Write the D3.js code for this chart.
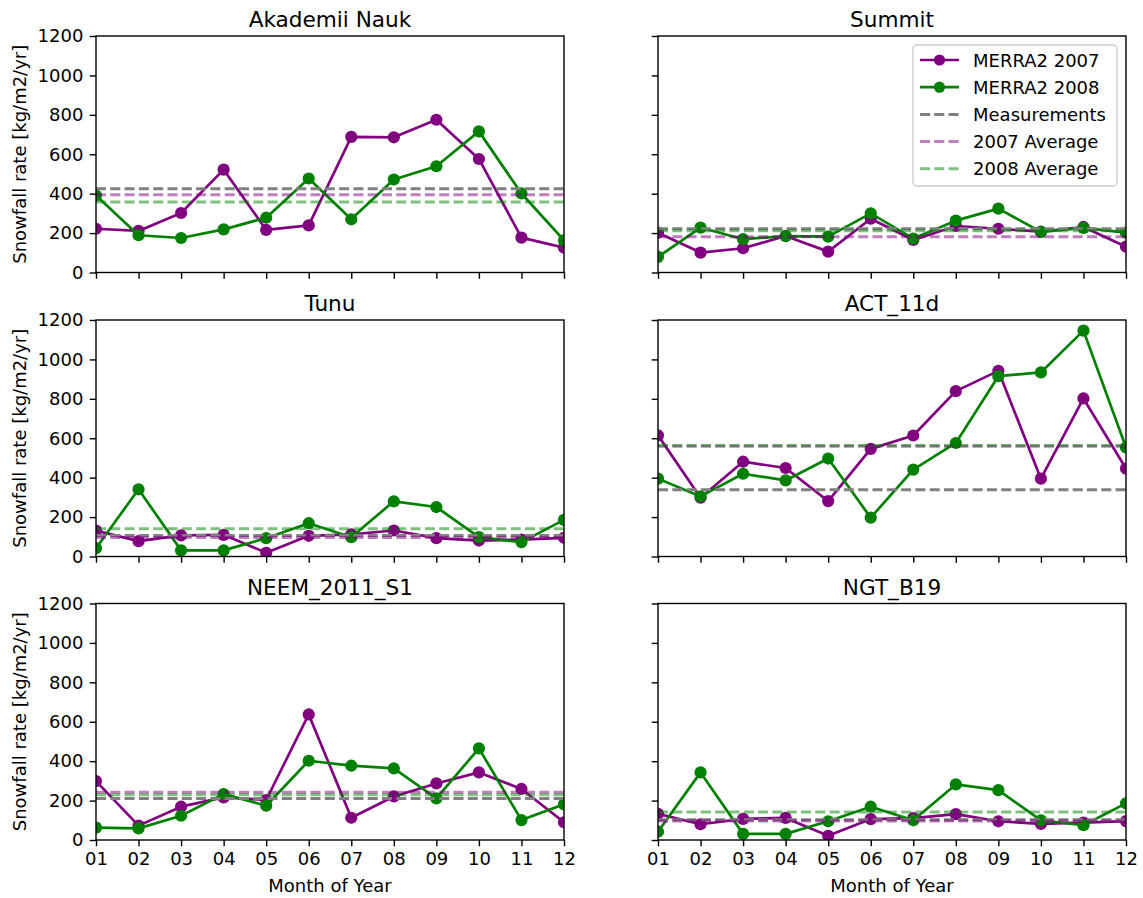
<!DOCTYPE html>
<html>
<head>
<meta charset="utf-8">
<script src="https://cdn.jsdelivr.net/npm/d3@7"></script>
<style>
  body { margin: 0; background: #fff; }
  text { font-family: "DejaVu Sans", sans-serif; fill: #000; }
</style>
</head>
<body>
<script>
const months = ["01", "02", "03", "04", "05", "06", "07", "08", "09", "10", "11", "12"];
const yTicks = [0, 200, 400, 600, 800, 1000, 1200];
const sites = ["Akademii Nauk", "Summit", "Tunu", "ACT_11d", "NEEM_2011_S1", "NGT_B19"];
const seriesNames = ["MERRA2 2007", "MERRA2 2008", "Measurements", "2007 Average", "2008 Average"];

// monthly MERRA2 snowfall rate per site, kg/m2/yr
const akademii2007 = [222, 211, 302, 522, 216, 239, 688, 686, 775, 576, 177, 126];
const akademii2008 = [391, 189, 175, 219, 278, 477, 270, 472, 539, 716, 401, 163];
const summit2007 = [202, 101, 123, 185, 106, 273, 165, 236, 222, 207, 231, 131];
const summit2008 = [79, 228, 169, 185, 182, 300, 172, 263, 324, 206, 226, 202];
const tunu2007 = [132, 78, 107, 110, 19, 105, 112, 132, 93, 81, 86, 95];
const tunu2008 = [42, 341, 31, 31, 93, 169, 98, 280, 251, 98, 73, 186];
const act2007 = [615, 298, 481, 449, 281, 546, 614, 839, 942, 395, 802, 446];
const act2008 = [395, 305, 420, 386, 497, 197, 441, 576, 915, 934, 1146, 553];
const neem2007 = [299, 73, 169, 216, 203, 637, 113, 221, 287, 343, 259, 90];
const neem2008 = [63, 59, 123, 233, 174, 402, 377, 363, 211, 465, 101, 181];
const ngt2007 = [133, 80, 107, 112, 21, 106, 111, 131, 95, 82, 88, 96];
const ngt2008 = [42, 343, 31, 31, 95, 169, 100, 282, 253, 100, 75, 186];

// measured accumulation at each site
const measurements = [425, 222, 107, 339, 210, 103];

const data2007 = [akademii2007, summit2007, tunu2007, act2007, neem2007, ngt2007];
const data2008 = [akademii2008, summit2008, tunu2008, act2008, neem2008, ngt2008];

const purple = "#800080", green = "#008000", gray = "#808080";
const W = 1143, H = 898;
const colX = [96, 658], rowY = [36, 320, 603.5];
const pw = 468, ph = 236.5;
const tickLen = 6.3, tickPad = 6.3;

const svg = d3.select("body").append("svg").attr("width", W).attr("height", H);

const x = d3.scaleLinear().domain([1, 12]).range([0, pw]);
const y = d3.scaleLinear().domain([0, 1200]).range([ph, 0]);

const line = d3.line().x((d, i) => x(i + 1)).y(d => y(d));

function drawPanel(idx) {
    const col = idx % 2, row = Math.floor(idx / 2);
    const g = svg.append("g").attr("transform", `translate(${colX[col]},${rowY[row]})`);

    svg.append("defs").append("clipPath").attr("id", "clip" + idx)
        .append("rect").attr("width", pw).attr("height", ph);

    const plot = g.append("g").attr("clip-path", `url(#clip${idx})`);

    [[data2007[idx], purple], [data2008[idx], green]].forEach(([vals, c]) => {
        plot.append("path").datum(vals)
            .attr("d", line)
            .attr("fill", "none").attr("stroke", c).attr("stroke-width", 2.7)
            .attr("stroke-linejoin", "round");
        plot.selectAll(null).data(vals).enter().append("circle")
            .attr("cx", (d, i) => x(i + 1)).attr("cy", d => y(d))
            .attr("r", 6.1).attr("fill", c);
    });

    const hlines = [
        [measurements[idx], gray, 1],
        [d3.mean(data2007[idx]), purple, 0.5],
        [d3.mean(data2008[idx]), green, 0.5]
    ];
    hlines.forEach(([v, c, op]) => {
        plot.append("line")
            .attr("x1", x(1)).attr("x2", x(12)).attr("y1", y(v)).attr("y2", y(v))
            .attr("stroke", c).attr("stroke-opacity", op).attr("stroke-width", 3)
            .attr("stroke-dasharray", "10,4.3");
    });

    const xAxis = d3.axisBottom(x).tickValues(d3.range(1, 13))
        .tickSize(tickLen).tickPadding(tickPad)
        .tickFormat(row === 2 ? (d => months[d - 1]) : "");
    const ax = g.append("g").attr("transform", `translate(0,${ph})`).call(xAxis);

    const yAxis = d3.axisLeft(y).tickValues(yTicks)
        .tickSize(tickLen).tickPadding(tickPad)
        .tickFormat(col === 0 ? d3.format("d") : "");
    const ay = g.append("g").call(yAxis);

    [ax, ay].forEach(a => {
        a.select(".domain").remove();
        a.selectAll("line").attr("stroke", "#000").attr("stroke-width", 1.4);
        a.selectAll("text").attr("font-size", 18).attr("font-family", "DejaVu Sans").attr("fill", "#000");
    });

    g.append("rect").attr("width", pw).attr("height", ph)
        .attr("fill", "none").attr("stroke", "#000").attr("stroke-width", 1.4);

    g.append("text").attr("x", pw / 2).attr("y", -9)
        .attr("text-anchor", "middle").attr("font-size", 21.6)
        .text(sites[idx]);

    if (col === 0) {
        svg.append("text")
            .attr("transform", `translate(25.5,${rowY[row] + ph / 2}) rotate(-90)`)
            .attr("text-anchor", "middle").attr("font-size", 18)
            .text("Snowfall rate [kg/m2/yr]");
    }
    if (row === 2) {
        svg.append("text").attr("x", colX[col] + pw / 2).attr("y", 892)
            .attr("text-anchor", "middle").attr("font-size", 18)
            .text("Month of Year");
    }
    if (idx === 1) drawLegend(g);
}

function drawLegend(g) {
    const lg = g.append("g").attr("transform", "translate(255,9)");
    lg.append("rect").attr("width", 204).attr("height", 141).attr("rx", 4)
        .attr("fill", "#fff").attr("fill-opacity", 0.8)
        .attr("stroke", "#cccccc").attr("stroke-width", 1.4);

    const styles = [
        { c: purple, op: 1, dash: null, marker: true },
        { c: green, op: 1, dash: null, marker: true },
        { c: gray, op: 1, dash: "10,4.3", marker: false },
        { c: purple, op: 0.5, dash: "10,4.3", marker: false },
        { c: green, op: 0.5, dash: "10,4.3", marker: false }
    ];
    seriesNames.forEach((name, i) => {
        const cy = 15 + i * 27.2;
        lg.append("line").attr("x1", 7).attr("x2", 46).attr("y1", cy).attr("y2", cy)
            .attr("stroke", styles[i].c).attr("stroke-opacity", styles[i].op)
            .attr("stroke-width", styles[i].marker ? 2.7 : 3)
            .attr("stroke-dasharray", styles[i].dash);
        if (styles[i].marker) {
            lg.append("circle").attr("cx", 26.5).attr("cy", cy).attr("r", 5.6).attr("fill", styles[i].c);
        }
        lg.append("text").attr("x", 60).attr("y", cy + 6.5).attr("font-size", 18).text(name);
    });
}

sites.forEach((s, i) => drawPanel(i));
</script>
</body>
</html>
